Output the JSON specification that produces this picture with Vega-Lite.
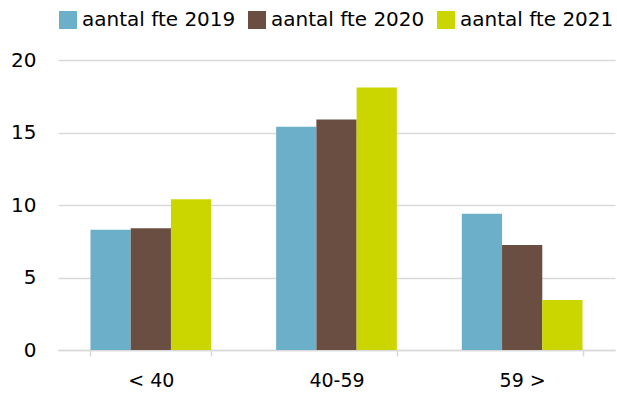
{
  "$schema": "https://vega.github.io/schema/vega-lite/v6.json",
  "autosize": "none",
  "width": 557,
  "height": 290,
  "padding": {"left": 58, "top": 60, "right": 2, "bottom": 49},
  "background": "white",
  "data": {"values": [
    {"groep": "< 40", "serie": "aantal fte 2019", "waarde": 8.3},
    {"groep": "< 40", "serie": "aantal fte 2020", "waarde": 8.4},
    {"groep": "< 40", "serie": "aantal fte 2021", "waarde": 10.4},
    {"groep": "40-59", "serie": "aantal fte 2019", "waarde": 15.4},
    {"groep": "40-59", "serie": "aantal fte 2020", "waarde": 15.9},
    {"groep": "40-59", "serie": "aantal fte 2021", "waarde": 18.1},
    {"groep": "59 >", "serie": "aantal fte 2019", "waarde": 9.4},
    {"groep": "59 >", "serie": "aantal fte 2020", "waarde": 7.25},
    {"groep": "59 >", "serie": "aantal fte 2021", "waarde": 3.45}
  ]},
  "mark": {"type": "bar"},
  "encoding": {
    "x": {
      "field": "groep", "type": "nominal", "sort": null,
      "scale": {"paddingInner": 0.35, "paddingOuter": 0.175},
      "axis": {"title": null, "labelAngle": 0, "labelFont": "DejaVu Sans", "labelFontSize": 19, "labelColor": "#000000", "labelPadding": 15,
               "tickBand": "extent", "tickColor": "#D9D9D9", "tickSize": 6, "domainColor": "#D9D9D9", "domainWidth": 1.5, "tickWidth": 1.5, "grid": false}
    },
    "xOffset": {"field": "serie", "type": "nominal", "sort": null},
    "y": {
      "field": "waarde", "type": "quantitative",
      "scale": {"domain": [0, 20], "nice": false},
      "axis": {"title": null, "values": [0, 5, 10, 15, 20], "domain": false, "ticks": false, "labelFont": "DejaVu Sans", "labelFontSize": 20, "labelColor": "#000000", "labelPadding": 22,
               "grid": true, "gridColor": "#D9D9D9", "gridWidth": 1.5}
    },
    "color": {
      "field": "serie", "type": "nominal", "sort": null,
      "scale": {"range": ["#6BAFC9", "#6B4E42", "#CBD500"]},
      "legend": {"title": null, "orient": "top", "direction": "horizontal", "offset": 30,
                 "labelFont": "DejaVu Sans", "labelFontSize": 20, "labelColor": "#000000",
                 "symbolType": "square", "symbolSize": 324, "symbolStrokeWidth": 0, "labelOffset": 4, "columnPadding": 11}
    }
  },
  "config": {"view": {"stroke": null}}
}
